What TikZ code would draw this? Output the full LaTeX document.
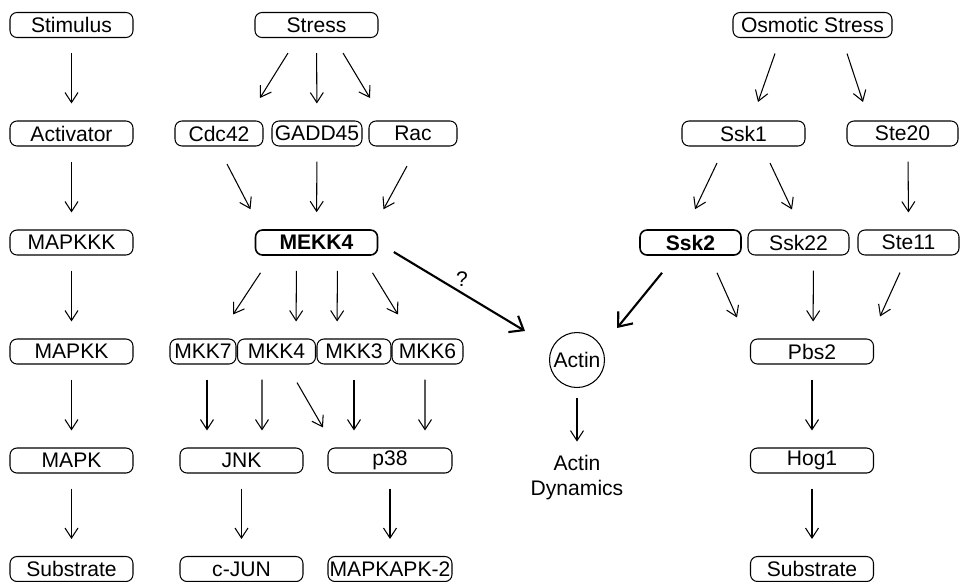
\documentclass[tikz,border=0pt]{standalone}
\usepackage{fontspec}
\setmainfont{Liberation Sans}
\usetikzlibrary{arrows.meta}
\begin{document}
\begin{tikzpicture}[
  box/.style={draw, rounded corners=0.14cm, minimum height=0.5cm, minimum width=2.46cm, inner sep=0pt, line width=0.6pt, font=\fontsize{12}{14}\selectfont},
  key/.style={box, line width=0.9pt, font=\fontsize{12}{14}\selectfont\bfseries},
  arr/.style={line width=0.6pt, -{Straight Barb[length=2mm,width=2.6mm]}},
  bigarr/.style={line width=1.2pt, -{Straight Barb[length=2.4mm,width=3.8mm]}},
  gap/.style={shorten <=0.3cm, shorten >=0.34cm}
]
\useasboundingbox (0,0) rectangle (19.2,-11.62);

\node[box] (stimulus) at (1.43,-0.5) {Stimulus};
\node[box] (activator) at (1.43,-2.67) {Activator};
\node[box] (mapkkk) at (1.43,-4.85) {MAPKKK};
\node[box] (mapkk) at (1.43,-7.03) {MAPKK};
\node[box] (mapk) at (1.43,-9.21) {MAPK};
\node[box] (substrate) at (1.43,-11.38) {Substrate};

\node[box] (stress) at (6.33,-0.5) {Stress};
\node[box, minimum width=1.76cm] (cdc42) at (4.38,-2.67) {Cdc42};
\node[box, minimum width=1.8cm] (gadd45) at (6.34,-2.67) {GADD45};
\node[box, minimum width=1.76cm] (rac) at (8.26,-2.67) {Rac};
\node[key, minimum width=2.44cm] (mekk4) at (6.33,-4.85) {MEKK4};
\node[box, minimum width=1.32cm] (mkk7) at (4.06,-7.03) {MKK7};
\node[box, minimum width=1.56cm] (mkk4) at (5.53,-7.03) {MKK4};
\node[box, minimum width=1.48cm] (mkk3) at (7.08,-7.03) {MKK3};
\node[box, minimum width=1.42cm] (mkk6) at (8.55,-7.03) {MKK6};
\node[box] (jnk) at (4.83,-9.21) {JNK};
\node[box, minimum width=2.48cm] (p38) at (7.8,-9.21) {p38};
\node[box] (cjun) at (4.83,-11.38) {c-JUN};
\node[box, minimum width=2.48cm] (mapkapk2) at (7.8,-11.38) {MAPKAPK-2};

\node[draw, circle, minimum size=1.1cm, inner sep=0pt, line width=0.6pt, font=\fontsize{12}{14}\selectfont] (actin) at (11.54,-7.2) {Actin};
\node[align=center, inner sep=0pt, font=\fontsize{12}{14.5}\selectfont] (dynamics) at (11.54,-9.55) {Actin\\Dynamics};

\node[box, minimum width=3.18cm] (osmotic) at (16.25,-0.5) {Osmotic Stress};
\node[box] (ssk1) at (14.87,-2.67) {Ssk1};
\node[box, minimum width=2.22cm] (ste20) at (18.05,-2.67) {Ste20};
\node[key, minimum width=2.02cm] (ssk2) at (13.81,-4.85) {Ssk2};
\node[box, minimum width=2.02cm] (ssk22) at (15.97,-4.85) {Ssk22};
\node[box, minimum width=2.02cm] (ste11) at (18.17,-4.85) {Ste11};
\node[box] (pbs2) at (16.24,-7.03) {Pbs2};
\node[box] (hog1) at (16.24,-9.21) {Hog1};
\node[box] (substrate2) at (16.24,-11.38) {Substrate};

\draw[arr, gap] (stimulus) -- (activator);
\draw[arr, gap] (activator) -- (mapkkk);
\draw[arr, gap] (mapkkk) -- (mapkk);
\draw[arr, gap] (mapkk) -- (mapk);
\draw[arr, gap] (mapk) -- (substrate);

\draw[arr] ([shift={(-0.57,-0.3)}]stress.south) -- ([shift={(0.82,0.45)}]cdc42.north);
\draw[arr, gap] (stress) -- (gadd45);
\draw[arr] ([shift={(0.53,-0.3)}]stress.south) -- ([shift={(-0.86,0.45)}]rac.north);
\draw[arr] ([shift={(0.16,-0.35)}]cdc42.south) -- ([shift={(-1.32,0.4)}]mekk4.north);
\draw[arr, gap] (gadd45) -- (mekk4);
\draw[arr] ([shift={(-0.12,-0.39)}]rac.south) -- ([shift={(1.34,0.4)}]mekk4.north);
\draw[arr] ([shift={(-1.12,-0.34)}]mekk4.south) -- ([shift={(0.6,0.48)}]mkk7.north);
\draw[arr, gap] ([xshift=-0.4cm]mekk4.south) -- ([xshift=0.39cm]mkk4.north);
\draw[arr, gap] ([xshift=0.42cm]mekk4.south) -- ([xshift=-0.34cm]mkk3.north);
\draw[arr] ([shift={(1.12,-0.34)}]mekk4.south) -- ([shift={(-0.59,0.48)}]mkk6.north);
\draw[arr, gap] ([xshift=0.08cm]mkk7.south) -- ([xshift=-0.69cm]jnk.north);
\draw[arr, gap] ([xshift=-0.29cm]mkk4.south) -- ([xshift=0.41cm]jnk.north);
\draw[arr] ([shift={(0.41,-0.36)}]mkk4.south) -- ([shift={(-1.34,0.4)}]p38.north);
\draw[arr, gap] (mkk3.south) -- ([xshift=-0.72cm]p38.north);
\draw[arr, gap] ([xshift=-0.05cm]mkk6.south) -- ([xshift=0.7cm]p38.north);
\draw[arr, gap] (jnk) -- (cjun);
\draw[arr, gap] (p38) -- (mapkapk2);

\draw[bigarr] ([shift={(0.31,-0.19)}]mekk4.east) -- node[pos=0.52, above, font=\fontsize{12}{14}\selectfont] {?} ([shift={(-1.04,0.58)}]actin.center);
\draw[bigarr] ([shift={(-0.57,-0.34)}]ssk2.south) -- ([shift={(0.8,0.64)}]actin.center);
\draw[arr] ([yshift=-0.2cm]actin.south) -- ([yshift=0.26cm]dynamics.north);

\draw[arr] ([shift={(-0.75,-0.31)}]osmotic.south) -- ([shift={(0.29,0.37)}]ssk1.north);
\draw[arr] ([shift={(0.69,-0.31)}]osmotic.south) -- ([shift={(-0.79,0.37)}]ste20.north);
\draw[arr] ([shift={(-0.53,-0.33)}]ssk1.south) -- ([shift={(0.09,0.4)}]ssk2.north);
\draw[arr] ([shift={(0.53,-0.33)}]ssk1.south) -- ([shift={(-0.13,0.4)}]ssk22.north);
\draw[arr, gap] ([xshift=0.11cm]ste20.south) -- (ste11.north);
\draw[arr] ([shift={(0.53,-0.34)}]ssk2.south) -- ([shift={(-1.5,0.42)}]pbs2.north);
\draw[arr, gap] ([xshift=0.3cm]ssk22.south) -- ([xshift=0.02cm]pbs2.north);
\draw[arr] ([shift={(-0.17,-0.34)}]ste11.south) -- ([shift={(1.36,0.44)}]pbs2.north);
\draw[arr, gap] (pbs2) -- (hog1);
\draw[arr, gap] (hog1) -- (substrate2);
\end{tikzpicture}
\end{document}
